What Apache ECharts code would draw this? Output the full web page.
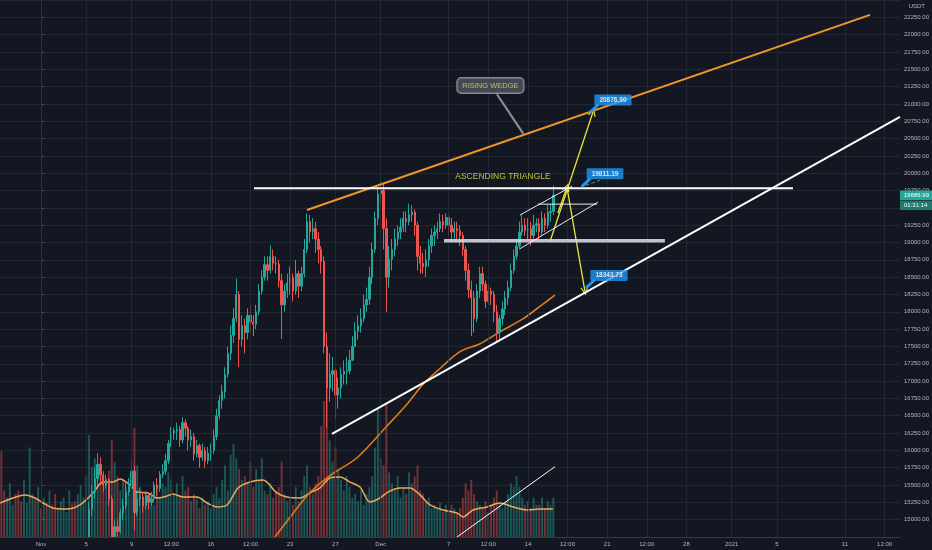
<!DOCTYPE html>
<html><head><meta charset="utf-8">
<script src="https://cdn.jsdelivr.net/npm/echarts@6/dist/echarts.min.js"></script>
<style>html,body{margin:0;padding:0;background:#131722;}#c{width:932px;height:550px;}</style>
</head><body><div id="c"></div>
<script>
// ---- time base: days relative to 1 Nov 2020 00:00, 6h candles ----
const startDay = -3.5;
const stepDay = 0.25;
const firstOpen = 13420;

const closes = [
13300,13150,
13250,13450,13500,13460, 13300,13200,13450,13560, 13700,13900,13650,13800,
13750,13800,13700,13760, 13600,13350,13450,13550, 13700,13900,14050,14030, 13900,14000,14100,14150,
14600,15150,15400,15590, 15800,15650,15500,15580, 15300,14600,14900,14830, 15100,15200,15400,15480,
15700,15100,15300,15330, 15200,15350,15250,15300, 15500,15450,15650,15700, 15850,16100,16250,16280,
16300,16150,16400,16320, 16150,16200,15950,16070, 15900,16000,15850,15960, 16000,16200,16500,16720,
16850,17100,17400,17660, 17900,18250,17600,17800, 17700,17950,17850,17820, 18000,18300,18500,18680,
18600,18800,18700,18690, 18450,18100,18300,18420, 18500,18300,18550,18370, 18550,18900,19300,19160,
19200,19050,18900,18730, 17500,16900,17100,17150, 16800,16900,17100,17140, 17150,17300,17500,17720,
17800,17900,18100,18180, 18500,18900,19350,19700, 19750,19200,18500,18760, 18900,19050,19150,19220,
19350,19300,19400,19440, 19250,18800,18700,18650, 18750,18950,19100,19150, 19200,19300,19250,19360,
19250,19150,19200,19170, 19100,18900,18600,18320, 18200,17900,18300,18550, 18400,18150,18300,18250,
18000,17700,17900,18040, 18200,18350,18600,18800, 18950,19150,19250,19170, 19200,19100,19250,19270,
19150,19350,19250,19430,
19450,19686.99
];
const highs = [
13550,13400,
13350,13550,13650,13580, 13520,13400,13500,13650, 13780,14050,13950,13870,
13850,13890,13850,13820, 13820,13650,13500,13620, 13750,13950,14150,14100, 14080,14100,14200,14250,
14700,15250,15500,15750, 15960,15900,15700,15650, 15600,15350,15000,15000, 15150,15300,15550,15600,
15850,15780,15400,15450, 15400,15400,15380,15400, 15550,15600,15700,15800, 15950,16150,16340,16330,
16400,16350,16480,16450, 16350,16300,16250,16150, 16100,16100,16050,16050, 16100,16300,16600,16800,
16950,17200,17500,17800, 18050,18480,18300,17950, 17900,18050,18100,17950, 18100,18400,18600,18800,
18800,18960,18900,18800, 18750,18550,18400,18550, 18650,18550,18750,18600, 18650,19050,19420,19400,
19350,19300,19150,18950, 18800,17700,17400,17350, 17200,17050,17200,17300, 17350,17450,17650,17850,
17950,18050,18250,18350, 18650,19000,19450,19800, 19890,19850,19350,18950, 19050,19200,19250,19350,
19450,19450,19560,19540, 19480,19300,18950,18850, 18900,19050,19200,19250, 19300,19420,19400,19420,
19400,19350,19300,19300, 19250,19150,18950,18700, 18450,18300,18400,18650, 18650,18450,18400,18350,
18300,18100,17950,18150, 18300,18450,18700,18900, 19050,19300,19400,19350, 19350,19300,19400,19350,
19350,19450,19420,19550,
19550,19820
];
const lows = [
13150,12950,
13050,13200,13380,13350, 13150,13100,13150,13400, 13500,13650,13600,13620,
13650,13700,13620,13680, 13550,13250,13300,13400, 13520,13650,13850,13950, 13800,13850,13950,14050,
14100,14550,15050,15300, 15500,15550,15400,15450, 15200,14350,14500,14700, 14800,15000,15150,15350,
15450,14850,15050,15200, 15100,15150,15150,15200, 15250,15350,15400,15600, 15650,15800,16050,16150,
16150,16050,16100,16200, 16000,16050,15850,15900, 15750,15850,15750,15800, 15850,15950,16150,16450,
16600,16750,17050,17300, 17550,17850,17200,17500, 17400,17600,17700,17650, 17750,17950,18250,18450,
18450,18550,18600,18550, 18350,17610,18000,18200, 18250,18150,18250,18200, 18300,18500,18850,19000,
19050,18850,18700,18550, 17400,16330,16700,16850, 16460,16600,16750,16950, 16950,17100,17300,17500,
17600,17700,17850,18000, 18100,18400,18850,19250, 19550,18900,18000,18350, 18600,18800,18950,19050,
19150,19150,19250,19300, 19100,18600,18550,18550, 18500,18650,18850,18950, 19050,19150,19150,19200,
19100,19000,19050,19050, 18950,18800,18450,18200, 17650,17700,17850,18200, 18300,18050,18100,18100,
17850,17570,17600,17800, 17950,18100,18300,18550, 18750,18900,19100,19100, 19050,18950,19050,19150,
19050,19100,19150,19200,
19300,19400
];
// volume per candle (thousand units)
const volumes = [
48,26,
22,30,18,24, 26,20,32,19, 50,24,21,28,
16,22,19,26, 18,24,16,20, 22,14,26,19, 20,24,29,22,
34,57,39,44, 32,40,34,29, 37,54,42,34, 26,32,28,24,
34,61,40,28, 22,26,19,24, 18,28,22,30, 28,36,32,24,
30,22,34,26, 28,20,24,22, 16,22,18,20, 16,24,28,22,
32,40,26,46, 52,44,38,32, 34,30,42,28, 38,32,44,26,
24,30,22,26, 28,42,24,20, 22,18,28,20, 26,34,40,28,
24,30,34,62, 76,84,54,42, 50,38,32,26, 34,28,22,24,
20,26,18,24, 28,34,50,72, 44,40,74,36, 30,26,34,22,
28,24,36,30, 34,40,26,24, 20,22,16,18, 16,19,14,18,
14,18,16,13, 16,22,30,26, 32,24,20,18, 16,20,14,18,
22,26,19,16, 20,24,30,28, 34,28,22,18, 20,16,22,18,
18,22,16,20,
18,22
];
const countdownText = '01:31:14';

// x-axis tick labels
const xTickDays = [0,4,8,11.5,15,18.5,22,26,30,36,39.5,43,46.5,50,53.5,57,61,65,71,74.5];
const xTickLabels = ['Nov','5','9','12:00','16','12:00','23','27','Dec','7','12:00','14','12:00','21','12:00','28','2021','5','11','12:00'];

// price moving average
const priceMaDays   = [20.66,22.61,23.75,25.52,27.91,30.55,32.32,33.73,35.24,37.0,38.77,40.53,42.56,44.33,45.39];
const priceMaValues = [14750,15165,15393,15637,15894,16352,16667,16953,17182,17425,17539,17711,17897,18111,18240];

// volume moving average
const volMaDays = [-3.62,-2.47,-1.41,-0.53,0.18,1.06,2.30,3.44,4.59,5.48,6.36,6.98,7.86,8.48,9.45,10.24,11.13,11.66,12.54,13.78,14.66,15.54,16.43,17.40,18.46,19.60,20.84,21.72,22.87,23.75,24.64,25.52,26.40,27.29,28.17,29.05,29.94,30.64,31.70,32.59,33.47,34.35,35.50,36.74,37.27,38.15,39.39,40.53,41.68,42.92,44.07,45.21];
const volMaValues = [19.0,21.8,23.5,21.8,19.0,16.2,15.6,17.9,24.6,30.7,30.7,32.4,29.1,25.1,24.6,21.8,22.9,24.0,22.3,22.3,19.0,16.8,17.9,27.4,30.7,31.8,24.6,22.3,21.8,24.6,27.4,33.0,33.5,30.7,27.9,19.6,21.8,25.1,27.4,27.4,23.5,17.9,15.1,13.4,11.2,15.1,16.8,19.0,16.8,15.1,15.6,15.6];

// drawings [day, price]
const risingWedgeLine = [[23.49,19469],[73.21,22286]];
const resistanceLine  = [[18.81,19783],[66.41,19783]];
const supportLine     = [[25.70,16237],[75.86,20813]];
const volumeTrendLine = [[36.74,14750],[45.39,15765]];
const supportBand     = [[35.59,19025],[55.10,19025]];
const flagUpper       = [[42.30,19397],[46.89,19812]];
const flagLower       = [[42.30,18911],[49.19,19583]];
const flagTop         = [[43.89,19554],[49.10,19554]];
const flagDotted      = [[47.60,19797],[49.36,19897]];
const wedgePointer    = [[40.27,21140],[42.59,20570]];
const arrowLong       = [[44.95,19011],[48.75,20884]];
const arrowDown       = [[46.45,19798],[48.04,18296]];
const arrowShort      = [[45.65,19426],[46.45,19798]];

const calloutDays   = [48.48,47.78,48.13];
const calloutPrices = [20876.90,19811.19,18343.73];
const wedgeLabel    = {text:'RISING WEDGE', at:[39.69,21266]};
const triangleLabel = {text:'ASCENDING TRIANGLE', at:[40.80,19955]};

// ---- build ----
const candleTimes = closes.map((_, i) => startDay + i * stepDay);
const candleData = closes.map((c, i) => {
  const o = i === 0 ? firstOpen : closes[i - 1];
  return [candleTimes[i], o, c, Math.min(lows[i], o, c), Math.max(highs[i], o, c)];
});
const upCol = '#26a69a', downCol = '#ef5350';
const volData = volumes.map((v, i) => ({
  value: [candleTimes[i], v],
  itemStyle: {color: candleData[i][2] >= candleData[i][1] ? 'rgba(38,166,154,0.45)' : 'rgba(239,83,80,0.45)'}
}));
const lastPrice = closes[closes.length - 1];
const FONT = 'Liberation Sans';
const txt = '#b2b5be';
const bg = '#131722';
const gridCol = 'rgba(42,46,57,0.75)';

function seg(data, color, width, z, type) {
  return {type:'line', data, symbol:'none', silent:true, z, clip:true,
    lineStyle:{color, width, type: type || 'solid'}, animation:false};
}
const chevron = 'path://M0,10 L5,0 L10,10 L8.4,10 L5,3.2 L1.6,10 Z';

const chart = echarts.init(document.getElementById('c'), null, {renderer:'canvas'});
chart.setOption({
  backgroundColor:bg,
  animation:false,
  textStyle:{fontFamily:FONT},
  grid:{left:0, right:32, top:-5, bottom:13, containLabel:false},
  xAxis:[{type:'value', min:-3.62, max:75.86, z:60, splitLine:{show:false},
    axisLine:{show:true, lineStyle:{color:'#363a45'}}, axisTick:{show:false},
    axisLabel:{customValues:xTickDays, color:txt, fontSize:6, margin:4, fontFamily:FONT,
      formatter:v => { const i = xTickDays.findIndex(d => Math.abs(d - v) < 1e-6); return i >= 0 ? xTickLabels[i] : ''; }}}],
  yAxis:[
    {type:'value', position:'right', min:14750, max:22500, interval:250, scale:false,
      axisLine:{show:true, lineStyle:{color:'#363a45'}},
      axisTick:{show:true, length:3, lineStyle:{color:'#50535e'}},
      splitLine:{show:true, lineStyle:{color:gridCol, width:1}},
      axisLabel:{color:txt, fontSize:6, margin:4, fontFamily:FONT, showMinLabel:false, showMaxLabel:false,
        formatter:v => v.toFixed(2)}},
    {type:'value', min:0, max:300, show:false, splitLine:{show:false}}
  ],
  graphic:[
    {type:'rect', id:'cover', left:0, bottom:0, shape:{width:900, height:12.5}, style:{fill:bg}, z:50, silent:true},
    {type:'text', id:'usdt', right:7, top:3, style:{text:'USDT', fill:txt, font:'6px '+FONT}, z:60}
  ],
  series:[
    {type:'line', data:[], z:0, silent:true,
      markLine:{silent:true, symbol:['none','none'], animation:false, label:{show:false},
        lineStyle:{color:gridCol, width:1, type:'solid'},
        data:xTickDays.map(d => ({xAxis:d}))}},
    {type:'bar', xAxisIndex:0, yAxisIndex:1, data:volData, barWidth:1.9, z:1, silent:true, animation:false},
    {type:'line', xAxisIndex:0, yAxisIndex:1, data:volMaDays.map((d,i)=>[d, volMaValues[i]]), symbol:'none', smooth:0.3,
      lineStyle:{color:'#f2a65a', width:1.5}, z:2, silent:true},
    {type:'line', data:priceMaDays.map((d,i)=>[d, priceMaValues[i]]), symbol:'none', smooth:0.3,
      lineStyle:{color:'#e07a1e', width:1.6}, z:3, silent:true},
    {type:'candlestick', data:candleData, encode:{x:0, y:[1,2,3,4]}, barWidth:1.8, clip:true, z:4, silent:true,
      itemStyle:{color:upCol, color0:downCol, borderColor:upCol, borderColor0:downCol, borderWidth:1}},
    seg(risingWedgeLine, '#f0962a', 2, 6),
    seg(resistanceLine, '#ffffff', 1.8, 6),
    seg(supportLine, '#ffffff', 2, 6),
    seg(volumeTrendLine, '#ffffff', 1, 6),
    seg(supportBand, 'rgba(212,214,222,0.9)', 3.5, 6),
    seg(flagUpper, 'rgba(255,255,255,0.9)', 1, 6),
    seg(flagLower, 'rgba(255,255,255,0.9)', 1, 6),
    seg(flagTop, 'rgba(255,255,255,0.9)', 1, 6),
    seg(flagDotted, 'rgba(150,155,170,0.8)', 1, 6, 'dashed'),
    seg(wedgePointer, '#8a8d96', 2.2, 7),
    {type:'line', data:[], z:8, silent:true,
      markLine:{silent:true, animation:false, symbol:['none', chevron], symbolSize:[8,8], label:{show:false},
        lineStyle:{color:'#e4e43a', width:1.3, type:'solid'},
        data:[arrowLong, arrowDown, arrowShort].map(a => [{coord:a[0]}, {coord:a[1]}])}},
    ...calloutDays.map((d, i) => seg([[d, calloutPrices[i]], [d + 0.75, calloutPrices[i] + 115]], '#2196f3', 3, 8)),
    {type:'scatter', data:calloutDays.map((d,i)=>[d, calloutPrices[i]]), symbolSize:1, z:9, silent:true,
      itemStyle:{color:'rgba(0,0,0,0)'},
      label:{show:true, position:'inside', offset:[23,-12.5], formatter:p => p.value[1].toFixed(2),
        backgroundColor:'#2196f3', color:'#ffffff', fontSize:6.5, fontWeight:'bold', fontFamily:FONT,
        padding:[2,5,2,5], borderRadius:1}},
    {type:'scatter', data:[wedgeLabel.at], symbolSize:1, z:9, silent:true, itemStyle:{color:'rgba(0,0,0,0)'},
      label:{show:true, position:'inside', formatter:wedgeLabel.text, backgroundColor:'rgba(88,91,102,0.9)',
        borderColor:'#a4a7b0', borderWidth:1, borderRadius:4, padding:[4,5,3,5], color:'#dcdc5e', fontSize:7.5, fontFamily:FONT}},
    {type:'scatter', data:[triangleLabel.at], symbolSize:1, z:9, silent:true, itemStyle:{color:'rgba(0,0,0,0)'},
      label:{show:true, position:'inside', formatter:triangleLabel.text, color:'#e6e640', fontSize:8.5, fontFamily:FONT}}
  ]
});

// last-price badge on the price scale, positioned through the axis scale
const py = chart.convertToPixel({yAxisIndex:0}, lastPrice);
const gx = chart.convertToPixel({xAxisIndex:0}, 75.86);
chart.setOption({graphic:[
  {type:'rect', id:'pbox', shape:{x:gx, y:py - 4.5, width:932 - gx, height:9.5}, style:{fill:upCol}, z:70, silent:true},
  {type:'text', id:'ptxt', x:gx + 4, y:py, style:{text:lastPrice.toFixed(2), fill:'#ffffff', font:'6px ' + FONT, verticalAlign:'middle'}, z:71, silent:true},
  {type:'rect', id:'cbox', shape:{x:gx, y:py + 5.5, width:932 - gx, height:9.5}, style:{fill:'#1d7a71'}, z:70, silent:true},
  {type:'text', id:'ctxt', x:gx + 4, y:py + 10.3, style:{text:countdownText, fill:'#ffffff', font:'6px ' + FONT, verticalAlign:'middle'}, z:71, silent:true}
]});
</script>
</body></html>
